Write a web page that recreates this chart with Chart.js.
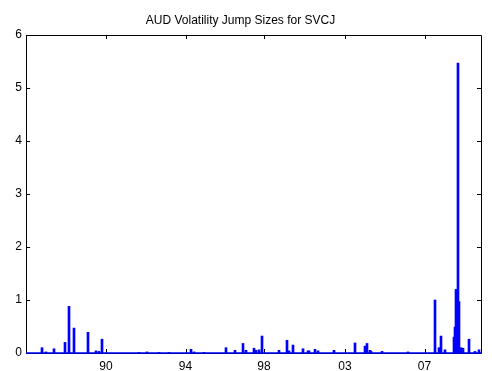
<!DOCTYPE html>
<html>
<head>
<meta charset="utf-8">
<script src="https://cdn.jsdelivr.net/npm/chart.js@4/dist/chart.umd.min.js"></script>
<style>
  html, body { margin: 0; padding: 0; background: #fff; }
  #wrap { width: 492px; height: 371px; }
</style>
</head>
<body>
<div id="wrap"><canvas id="chartJumps" width="492" height="371"></canvas></div>
<script>
// x runs over observation index (0..455), labels are the years shown on the axis
const nObs = 455;
const tickPos = [80, 159.5, 238, 319, 398.5];
const tickLabels = ["90", "94", "98", "03", "07"];

const jumpIdx = [16, 20, 28, 39, 43, 48, 62, 70, 73, 76,
  113, 121, 133, 143, 165, 168, 178, 200, 209, 217,
  220, 228, 230, 233, 236, 253, 261, 263, 267, 277,
  282, 283, 289, 292, 308, 329, 339, 341, 344, 345,
  356, 382, 409, 413, 415, 419, 428, 429, 430, 432,
  433, 435, 437, 443, 449, 453];
const jumpSize = [0.10, 0.02, 0.08, 0.20, 0.88, 0.47, 0.39, 0.04, 0.03, 0.26,
  0.01, 0.02, 0.01, 0.01, 0.07, 0.02, 0.01, 0.10, 0.05, 0.18,
  0.05, 0.09, 0.05, 0.06, 0.32, 0.05, 0.24, 0.04, 0.15, 0.08,
  0.04, 0.04, 0.07, 0.04, 0.05, 0.19, 0.13, 0.18, 0.05, 0.03,
  0.03, 0.02, 1.00, 0.10, 0.32, 0.06, 0.30, 0.49, 1.20, 5.47,
  0.97, 0.10, 0.09, 0.26, 0.03, 0.06];

const yTicks = [0, 1, 2, 3, 4, 5, 6];

const jumps = jumpIdx.map((x, i) => ({ x, y: jumpSize[i] }));
const baseline = [{ x: 0, y: 0 }, { x: nObs, y: 0 }];

const fontFam = "'Liberation Sans', Arial, Helvetica, sans-serif";

// matlab-like box with ticks pointing inwards
const boxTicks = {
  id: "boxTicks",
  beforeDatasetsDraw(chart) {
    const { ctx, chartArea: a, scales } = chart;
    const len = 4;
    ctx.save();
    ctx.strokeStyle = "#000";
    ctx.lineWidth = 1;
    ctx.beginPath();
    ctx.rect(Math.round(a.left) + 0.5, Math.round(a.top) + 0.5,
      Math.round(a.right - a.left), Math.round(a.bottom - a.top));
    scales.y.ticks.forEach((t) => {
      const py = Math.round(scales.y.getPixelForValue(t.value)) + 0.5;
      ctx.moveTo(a.left, py); ctx.lineTo(a.left + len, py);
      ctx.moveTo(a.right, py); ctx.lineTo(a.right - len, py);
    });
    scales.x.ticks.forEach((t) => {
      const px = Math.round(scales.x.getPixelForValue(t.value)) + 0.5;
      ctx.moveTo(px, a.bottom); ctx.lineTo(px, a.bottom - len);
      ctx.moveTo(px, a.top); ctx.lineTo(px, a.top + len);
    });
    ctx.stroke();
    ctx.restore();
  },
};

new Chart(document.getElementById("chartJumps"), {
  type: "bar",
  data: {
    datasets: [
      {
        type: "line",
        data: baseline,
        borderColor: "#0000ff",
        borderWidth: 1.5,
        pointRadius: 0,
        clip: false,
      },
      {
        type: "bar",
        data: jumps,
        backgroundColor: "#0000ff",
        borderWidth: 0,
        barThickness: 2,
        grouped: false,
      },
    ],
  },
  options: {
    responsive: false,
    animation: false,
    layout: { padding: { left: 0, right: 11, top: 0, bottom: 0 } },
    plugins: {
      legend: { display: false },
      tooltip: { enabled: false },
      title: {
        display: true,
        text: "AUD Volatility Jump Sizes for SVCJ",
        color: "#000",
        font: { family: fontFam, size: 12, weight: "normal" },
        padding: { top: 13, bottom: 7.6 },
      },
    },
    scales: {
      x: {
        type: "linear",
        min: 0,
        max: nObs,
        offset: false,
        grid: { display: false, drawTicks: false },
        border: { display: false },
        afterBuildTicks: (s) => { s.ticks = tickPos.map((v) => ({ value: v })); },
        afterFit: (s) => { s.height = 18; },
        ticks: {
          color: "#000",
          padding: 6,
          maxRotation: 0,
          autoSkip: false,
          font: { family: fontFam, size: 12 },
          callback: (v) => tickLabels[tickPos.indexOf(v)],
        },
      },
      y: {
        min: 0,
        max: 6,
        grid: { display: false, drawTicks: false },
        border: { display: false },
        afterBuildTicks: (s) => { s.ticks = yTicks.map((v) => ({ value: v })); },
        afterFit: (s) => { s.width = 26; },
        ticks: {
          color: "#000",
          padding: 4,
          font: { family: fontFam, size: 12 },
        },
      },
    },
  },
  plugins: [boxTicks],
});
</script>
</body>
</html>
